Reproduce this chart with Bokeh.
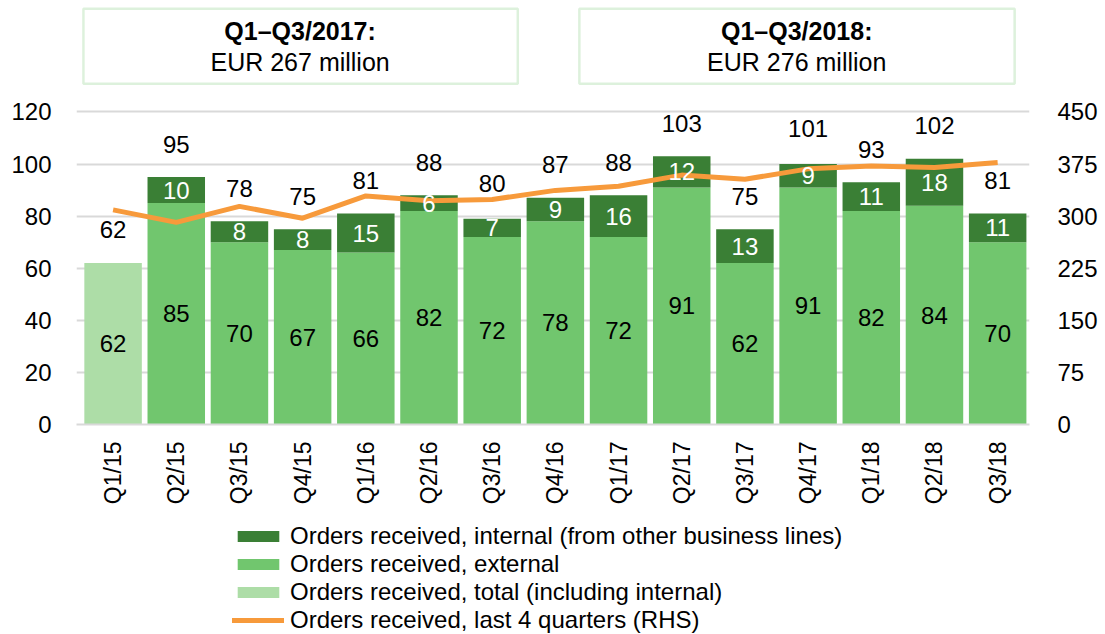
from math import pi
from bokeh.plotting import figure
from bokeh.layouts import column
from bokeh.models import (ColumnDataSource, Range1d, LinearAxis, FixedTicker,
                          Legend, LegendItem, BoxAnnotation, Label)
from bokeh.core.properties import value
from bokeh.embed import file_html
from bokeh.resources import INLINE

# ---------------- data ----------------
quarters = ["Q1/15", "Q2/15", "Q3/15", "Q4/15", "Q1/16", "Q2/16", "Q3/16", "Q4/16",
            "Q1/17", "Q2/17", "Q3/17", "Q4/17", "Q1/18", "Q2/18", "Q3/18"]
total = [62, 95, 78, 75, 81, 88, 80, 87, 88, 103, 75, 101, 93, 102, 81]
external = [None, 85, 70, 67, 66, 82, 72, 78, 72, 91, 62, 91, 82, 84, 70]
internal = [None, 10, 8, 8, 15, 6, 7, 9, 16, 12, 13, 9, 11, 18, 11]
last4q = [309, 291, 314, 297, 329, 322, 324, 337, 343, 359, 353, 368, 372, 370, 377]

left_ticks = [0, 20, 40, 60, 80, 100, 120]
right_ticks = [0, 75, 150, 225, 300, 375, 450]

box_titles = ["Q1\u2013Q3/2017:", "Q1\u2013Q3/2018:"]
box_values = ["EUR 267 million", "EUR 276 million"]

legend_labels = ["Orders received, internal (from other business lines)",
                 "Orders received, external",
                 "Orders received, total (including internal)",
                 "Orders received, last 4 quarters (RHS)"]

# ---------------- colours / styles ----------------
C_INT = "#3A7F35"
C_EXT = "#71C66E"
C_TOT = "#ADDDA7"
C_LINE = "#F79A3B"
C_GRID = "#D9D9D9"
C_BOX = "#8FD18A"
FONT = "Liberation Sans"
FS = "24px"

# ---------------- sources ----------------
idx = list(range(len(quarters)))
split_idx = [i for i in idx if external[i] is not None]
only_idx = [i for i in idx if external[i] is None]

src_split = ColumnDataSource(dict(
    x=split_idx,
    ext=[external[i] for i in split_idx],
    top=[external[i] + internal[i] for i in split_idx],
    ext_mid=[external[i] / 2 for i in split_idx],
    int_mid=[external[i] + internal[i] / 2 for i in split_idx],
    ext_lbl=[str(external[i]) for i in split_idx],
    int_lbl=[str(internal[i]) for i in split_idx],
))
src_only = ColumnDataSource(dict(
    x=only_idx,
    top=[total[i] for i in only_idx],
    mid=[total[i] / 2 for i in only_idx],
    lbl=[str(total[i]) for i in only_idx],
))
src_tot = ColumnDataSource(dict(x=idx, y=total, lbl=[str(t) for t in total]))
src_line = ColumnDataSource(dict(x=idx, y=last4q))

# ---------------- main figure ----------------
W = 1100
px_per_unit = 2.605
frame_h = 424
H1 = 514
H2 = 120
y_top = frame_h / px_per_unit

p = figure(width=W, height=H1, output_backend="svg", toolbar_location=None,
           x_range=Range1d(-0.579, 14.504),
           y_range=Range1d(0, y_top),
           min_border_left=76, min_border_right=65, min_border_top=0,
           min_border_bottom=H1 - frame_h)
p.extra_y_ranges = {"rhs": Range1d(0, y_top * 450 / 120)}
p.outline_line_color = None
p.background_fill_color = "white"

BW = 0.91
p.vbar(x="x", top="top", bottom=0, width=BW, source=src_only, fill_color=C_TOT, line_color=None)
p.vbar(x="x", top="ext", bottom=0, width=BW, source=src_split, fill_color=C_EXT, line_color=None)
p.vbar(x="x", top="top", bottom="ext", width=BW, source=src_split, fill_color=C_INT, line_color=None)
p.line(x="x", y="y", source=src_line, y_range_name="rhs", line_color=C_LINE, line_width=5)

common = dict(text_font=value(FONT), text_font_size=FS, text_align="center",
              text_baseline="middle")
p.text(x="x", y="ext_mid", text="ext_lbl", source=src_split, text_color="black", **common)
p.text(x="x", y="int_mid", text="int_lbl", source=src_split, text_color="white", **common)
p.text(x="x", y="mid", text="lbl", source=src_only, text_color="black", **common)
p.text(x="x", y="y", text="lbl", source=src_tot, text_color="black", y_offset=-33, **common)

# axes
p.yaxis.ticker = FixedTicker(ticks=left_ticks)
p.ygrid.ticker = FixedTicker(ticks=left_ticks)
p.ygrid.grid_line_color = C_GRID
p.ygrid.grid_line_width = 2
p.xgrid.grid_line_color = None
ya = p.yaxis[0]
ya.axis_line_color = None
ya.major_tick_line_color = None
ya.minor_tick_line_color = None
ya.major_label_text_font = FONT
ya.major_label_text_font_size = FS
ya.major_label_text_color = "black"
ya.major_label_standoff = 19

rax = LinearAxis(y_range_name="rhs", ticker=FixedTicker(ticks=right_ticks),
                 axis_line_color=None, major_tick_line_color=None,
                 minor_tick_line_color=None, major_label_text_font=FONT,
                 major_label_text_font_size=FS, major_label_text_color="black",
                 major_label_standoff=22)
p.add_layout(rax, "right")

xa = p.xaxis[0]
xa.ticker = FixedTicker(ticks=idx)
xa.major_label_overrides = {i: q for i, q in zip(idx, quarters)}
xa.major_label_orientation = pi / 2
xa.axis_line_color = C_GRID
xa.axis_line_width = 2
xa.major_tick_line_color = None
xa.minor_tick_line_color = None
xa.major_label_text_font = FONT
xa.major_label_text_font_size = "23px"
xa.major_label_text_color = "black"
xa.major_label_standoff = 11

# boxes at the top
box_left = [-0.469, 7.380]
box_right = [6.405, 14.269]
box_cx = [2.96, 10.82]
for bl, br, cx, t1, t2 in zip(box_left, box_right, box_cx, box_titles, box_values):
    p.add_layout(BoxAnnotation(left=bl, right=br, bottom=130.8, top=159.6,
                               fill_alpha=0, line_color=C_BOX, line_width=2.5))
    p.add_layout(Label(x=cx, y=151.2, text=t1, text_font=FONT, text_font_size="25px",
                       text_font_style="bold", text_align="center",
                       text_baseline="middle", text_color="black"))
    p.add_layout(Label(x=cx, y=139.2, text=t2, text_font=FONT, text_font_size="25px",
                       text_align="center", text_baseline="middle",
                       text_color="black"))

# ---------------- legend figure (proxies share the data, drawn off-range) ----------------
q = figure(width=W, height=H2, output_backend="svg", toolbar_location=None,
           x_range=Range1d(1000, 1001), y_range=Range1d(1000, 1001),
           x_axis_type=None, y_axis_type=None,
           min_border_left=0, min_border_right=0, min_border_top=0, min_border_bottom=0)
q.outline_line_color = None
q.xgrid.visible = False
q.ygrid.visible = False
l_int = q.vbar(x="x", top="top", bottom="ext", width=BW, source=src_split,
               fill_color=C_INT, line_color=None)
l_ext = q.vbar(x="x", top="ext", bottom=0, width=BW, source=src_split,
               fill_color=C_EXT, line_color=None)
l_tot = q.vbar(x="x", top="top", bottom=0, width=BW, source=src_only,
               fill_color=C_TOT, line_color=None)
l_line = q.line(x="x", y="y", source=src_line, line_color=C_LINE, line_width=5,
                line_cap="round")

legend = Legend(items=[LegendItem(label=lab, renderers=[r]) for lab, r in
                       zip(legend_labels, [l_int, l_ext, l_tot, l_line])],
                location=(156, 0), orientation="vertical",
                label_text_font=FONT, label_text_font_size="24px", label_text_color="black",
                glyph_width=52, glyph_height=14, label_height=27, spacing=0, padding=0,
                margin=0, border_line_color=None, background_fill_alpha=0,
                label_standoff=6)
q.add_layout(legend, "center")

layout = column(p, q, spacing=0)
open("out.html", "w").write(file_html(layout, INLINE))
